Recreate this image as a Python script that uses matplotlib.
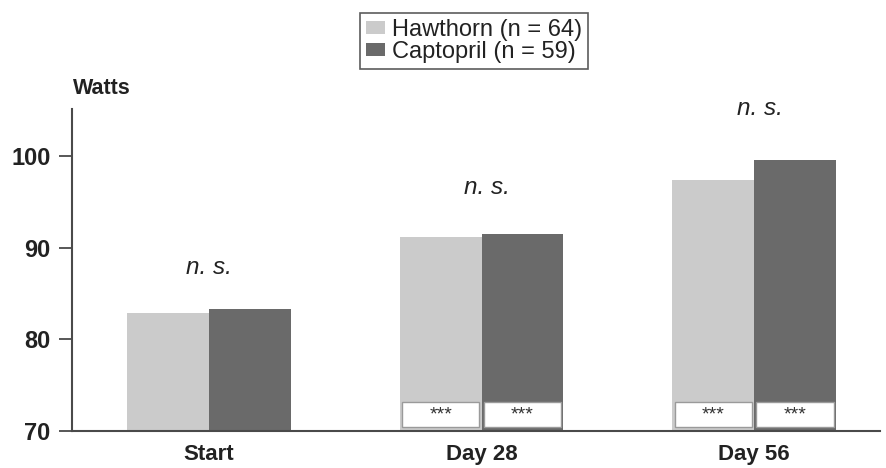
import numpy as np
import matplotlib
matplotlib.use("Agg")
import matplotlib.pyplot as plt
from matplotlib.patches import Rectangle

# exercise tolerance (Watts) at each visit
visits = ["Start", "Day 28", "Day 56"]
hawthorn = [82.9, 91.1, 97.4]
captopril = [83.3, 91.5, 99.5]
series_labels = ["Hawthorn (n = 64)", "Captopril (n = 59)"]
sig_labels = ["n. s.", "n. s.", "n. s."]
sig_heights = [87.8, 96.5, 105.15]
# visits whose bars carry the *** box (vs. baseline)
star_visits = [1, 2]
yticks = [70, 80, 90, 100]

plt.rcParams['font.family'] = ['Liberation Sans', 'DejaVu Sans']

light = "#cbcbcb"
dark = "#6a6a6a"
axis_col = "#4a4a4a"
txt_col = "#222222"

fig = plt.figure(figsize=(8.86, 4.68), dpi=100)
ax = fig.add_axes([0.0813, 0.079, 0.9119, 0.688])

x = np.arange(len(visits))
w = 0.30
ax.bar(x - w / 2, hawthorn, w, bottom=0, color=light, label=series_labels[0])
ax.bar(x + w / 2, captopril, w, bottom=0, color=dark, label=series_labels[1])

# white boxes with significance stars at the foot of the bars
for i in star_visits:
    for off in (-w / 2, w / 2):
        left = x[i] + off - w / 2 + 0.008
        ax.add_patch(Rectangle((left, 70.45), w - 0.016, 2.75,
                               facecolor="white", edgecolor="#9a9a9a", lw=1.0))
        ax.text(x[i] + off, 71.75, "***", ha="center", va="center",
                fontsize=14, color="#333333")

for i, lab in enumerate(sig_labels):
    ax.text(x[i] + (0.02 if i else 0), sig_heights[i], lab, ha="center", va="center",
            fontsize=17.5, style="italic", color=txt_col, clip_on=False)

ax.set_xlim(-0.503, 2.462)
ax.set_ylim(70, 105.1)
ax.set_yticks(yticks)
ax.set_yticklabels([str(t) for t in yticks], fontsize=17, fontweight="bold", color=txt_col)
ax.set_xticks(x)
ax.set_xticklabels(visits, fontsize=16, fontweight="bold", color=txt_col)
ax.tick_params(axis="x", length=0, pad=9)
ax.tick_params(axis="y", length=9.5, width=1.3, color=axis_col, pad=6)

for s in ("top", "right"):
    ax.spines[s].set_visible(False)
for s in ("left", "bottom"):
    ax.spines[s].set_color(axis_col)
    ax.spines[s].set_linewidth(1.5)

fig.text(73 / 886, 1 - 88 / 468, "Watts", ha="left", va="center",
         fontsize=15.5, fontweight="bold", color=txt_col)

leg = fig.legend(loc="upper left", bbox_to_anchor=(360 / 886, 1 - 13 / 468),
                 borderaxespad=0, fontsize=17, frameon=True, fancybox=False,
                 handlelength=0.8, handleheight=0.5, handletextpad=0.3,
                 labelspacing=0.0, borderpad=0.25)
leg.get_frame().set_edgecolor("#333333")
leg.get_frame().set_linewidth(1.2)
for t in leg.get_texts():
    t.set_color(txt_col)

fig.savefig("out.png", dpi=100, facecolor="white")
